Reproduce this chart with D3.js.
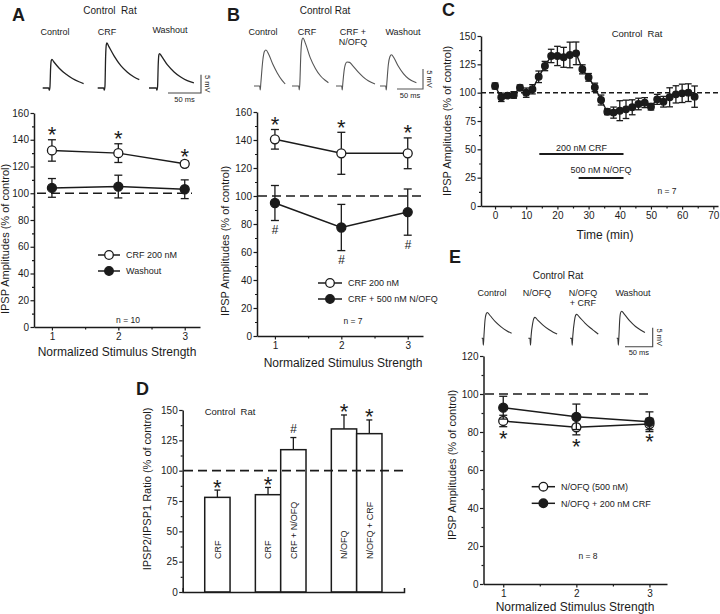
<!DOCTYPE html>
<html><head><meta charset="utf-8">
<script src="https://cdn.jsdelivr.net/npm/d3@7"></script>
<style>
body{margin:0;background:#fff;}
svg{display:block;font-family:"Liberation Sans",Arial,Helvetica,sans-serif;}
</style></head><body>
<svg id="fig" width="720" height="614"></svg>
<script>
// ================= DATA =================
const strengthLevels = [1, 2, 3];
const strengthTickLabels = ["1", "2", "3"];

// Panel A
const aCrfMean = [132, 130, 122];
const aCrfErr = [8, 7, 2];
const aWashMean = [104, 105, 103];
const aWashErr = [7, 8.5, 7];

// Panel B
const bCrfMean = [140.5, 130.5, 130.5];
const bCrfErr = [7, 15, 11];
const bComboMean = [95, 77.5, 88.5];
const bComboErr = [12.5, 16.5, 16.5];

// Panel E
const eNofqMean = [85.8, 82.5, 84.2];
const eNofqErr = [3, 4, 3];
const eComboMean = [92.8, 88, 85.4];
const eComboErr = [6, 6.7, 5.2];

// Panel C (time course)
const cTimes = [0,2,4,6,8,10,12,14,16,18,20,22,24,26,28,30,32,34,36,38,40,42,44,46,48,50,52,54,56,58,60,62,64];
const cMeans = [105.9,95.9,97.4,98,104.4,100,103,114,123.5,132.4,132.4,131.2,133.3,134.7,120.6,113.5,104.7,93.5,83.2,82.4,84.1,85.3,87.1,90,91.2,87.6,94.1,92,95.9,98.5,99.4,100,96.5];
const cErrs  = [2.6,3.7,1.8,2.9,2.4,4.1,4.1,5.1,4.1,5.9,8.5,8.8,11.3,10,4,3.4,3.7,4.4,2.6,4.9,8.8,8.1,6.6,5.1,4.4,2.9,4.4,4.7,8.4,7.6,8.1,7.8,9.4];
const cCrfPeriod = [14.2, 41.2];
const cNofqPeriod = [26.8, 41.2];
const cXTicks = [0,10,20,30,40,50,60,70];
const cYTicks = [0,25,50,75,100,125,150];

// Panel D (bars; empty slots are gaps between groups)
const dSlots = ["s1","g1","s2","s3","g2","s4","s5"];
const dLabels = ["CRF", "", "CRF", "CRF + N/OFQ", "", "N/OFQ", "N/OFQ + CRF"];
const dValues = [78, null, 80.2, 117.3, null, 134.4, 130.5];
const dErrs   = [6, null, 6, 10, null, 11.5, 11.3];
const dMarks  = ["*", "", "*", "#", "", "*", "*"];
const dYTicks = [0,25,50,75,100,125,150];

const abYTicks = [0,20,40,60,80,100,120,140,160];
const eYTicks = [0,20,40,60,80,100,120];

// Example traces [ms, mV]
const aTraces = [
  [[0,0],[9,0],[10,-0.6],[11,0.3],[12,5.5],[13,7.5],[14,7.8],[17,7.1],[25,5.4],[35,3.8],[45,2.6],[55,1.7],[62,1.2]],
  [[0,0],[9,0],[10,-0.6],[11,0.5],[12,8.5],[13,11.8],[14,12.3],[17,11.3],[25,8.7],[35,6.1],[45,4.3],[55,3.0],[63,2.3]],
  [[0,0],[11,0],[12,-0.6],[13,0.4],[14,6.5],[15,9.1],[16,9.4],[19,8.7],[28,6.3],[38,4.4],[48,3.0],[58,2.0],[68,1.4]]
];
const aTraceLabels = ["Control", "CRF", "Washout"];
const bTraces = [
  [[0,0],[11,0],[12,-1],[13,0.5],[17,6.5],[20,8.6],[23,9],[28,8],[36,5.5],[45,3.2],[54,1.4],[60,0.5]],
  [[0,0],[13,0],[14,-1],[15,0.5],[17,8],[19,11.4],[21,12],[26,10.6],[35,7.1],[45,4.4],[55,2.5],[65,1.3],[70,0.8]],
  [[0,0],[11,0],[12,-1],[13,0.5],[16,4.2],[18,5.4],[21,6],[26,5.9],[32,5.1],[42,3.6],[52,2.3],[62,1.3],[75,0.5]],
  [[0,0],[11,0],[12,-1],[13,0.5],[16,5.3],[19,7.3],[22,7.8],[27,7],[35,5],[45,3.1],[55,1.8],[70,0.8]]
];
const bTraceLabels = [["Control"], ["CRF"], ["CRF +", "N/OFQ"], ["Washout"]];
const eTraces = [
  [[0,0],[2,0],[3,-1.8],[4,0.5],[6,4.8],[8,6.4],[10,6.8],[15,6],[25,4.3],[35,3],[45,2],[54,1.3]],
  [[0,0],[3,0],[4,-1.8],[5,0.5],[8,4],[10,5.2],[12,5.5],[17,4.8],[27,3.4],[37,2.3],[45,1.6],[52,1.1]],
  [[0,0],[3,0],[4,-1.8],[5,0.5],[8,4.6],[10,6],[12,6.3],[17,5.6],[27,4],[37,2.7],[45,1.8],[51,1.1]],
  [[0,0],[2,0],[3,-1.8],[4,0.5],[5.5,5],[7,6.7],[9,7.1],[14,6.3],[24,4.5],[34,3.1],[44,2.1],[51,1.5]]
];
const eTraceLabels = [["Control"], ["N/OFQ"], ["N/OFQ", "+ CRF"], ["Washout"]];
const scaleBarMs = 50, scaleBarMv = 5;

// ================= DRAWING =================
const svg = d3.select("#fig");
const INK = "#1b1b1b";

function txt(x, y, s, size, o = {}) {
  const t = svg.append("text").attr("x", x).attr("y", y).text(s)
    .attr("font-size", size).attr("fill", o.fill || INK)
    .attr("text-anchor", o.anchor || "middle");
  if (o.weight) t.attr("font-weight", o.weight);
  if (o.italic) t.attr("font-style", "italic");
  if (o.rotate) t.attr("transform", `rotate(${o.rotate},${x},${y})`);
  return t;
}
function styleAxis(g, fs = 10) {
  g.attr("font-family", null).attr("font-size", fs);
  g.selectAll("path.domain").attr("stroke", INK).attr("stroke-width", 1.5);
  g.selectAll(".tick line").attr("stroke", INK).attr("stroke-width", 1.2);
  g.selectAll(".tick text").attr("fill", INK);
}
function yAxis(xPos, y, major, minor, fs = 10) {
  const g = svg.append("g").attr("transform", `translate(${xPos},0)`);
  g.call(d3.axisLeft(y).tickValues(major).tickSize(3.5).tickPadding(1.5).tickSizeOuter(0));
  styleAxis(g, fs);
  const m = svg.append("g").attr("transform", `translate(${xPos},0)`);
  m.call(d3.axisLeft(y).tickValues(minor).tickSize(2).tickFormat("").tickSizeOuter(0));
  m.select("path.domain").remove();
  styleAxis(m);
}
function xAxis(yPos, x, major, minor, fmt, fs = 10) {
  const g = svg.append("g").attr("transform", `translate(0,${yPos})`);
  const ax = d3.axisBottom(x).tickValues(major).tickSize(3.5).tickPadding(2.5).tickSizeOuter(0);
  if (fmt) ax.tickFormat(fmt);
  g.call(ax);
  styleAxis(g, fs);
  if (minor && minor.length) {
    const m = svg.append("g").attr("transform", `translate(0,${yPos})`);
    m.call(d3.axisBottom(x).tickValues(minor).tickSize(2.5).tickFormat("").tickSizeOuter(0));
    m.select("path.domain").remove();
    styleAxis(m);
  }
}
function dashed(x1, x2, yv, dash, w = 1.6) {
  svg.append("line").attr("x1", x1).attr("x2", x2).attr("y1", yv).attr("y2", yv)
    .attr("stroke", INK).attr("stroke-width", w).attr("stroke-dasharray", dash);
}
function errBar(cx, y1, y2, cap, yCapTop, yCapBot) {
  svg.append("line").attr("x1", cx).attr("x2", cx).attr("y1", y1).attr("y2", y2)
    .attr("stroke", INK).attr("stroke-width", 1.3);
  [yCapTop, yCapBot].forEach(cy => {
    if (cy == null) return;
    svg.append("line").attr("x1", cx - cap).attr("x2", cx + cap).attr("y1", cy).attr("y2", cy)
      .attr("stroke", INK).attr("stroke-width", 1.3);
  });
}
function marker(cx, cy, r, open) {
  svg.append("circle").attr("cx", cx).attr("cy", cy).attr("r", r)
    .attr("fill", open ? "#fff" : INK).attr("stroke", INK).attr("stroke-width", 1.3);
}
function star(cx, cy, sym = "*") {
  if (sym === "*") txt(cx, cy + 12.5, "*", 22);
  else if (sym === "#") txt(cx, cy + 4.3, "#", 12, { italic: true });
}
function drawSeries(x, y, mean, err, open, r = 4.5) {
  const pts = strengthLevels.map((lv, i) => ({ lv, m: mean[i], e: err[i] }));
  svg.append("path").datum(pts)
    .attr("d", d3.line().x(d => x(d.lv)).y(d => y(d.m)))
    .attr("fill", "none").attr("stroke", INK).attr("stroke-width", 1.5);
  pts.forEach(d => {
    const t = y(d.m + d.e), b = y(d.m - d.e);
    errBar(x(d.lv), t, b, 4, t, b);
  });
  pts.forEach(d => marker(x(d.lv), y(d.m), r, open));
}
function legendRow(x1, x2, yv, open, label) {
  svg.append("line").attr("x1", x1).attr("x2", x2).attr("y1", yv).attr("y2", yv)
    .attr("stroke", INK).attr("stroke-width", 1.5);
  marker((x1 + x2) / 2, yv, 4.3, open);
  txt(x2 + 6, yv + 3.2, label, 9, { anchor: "start" });
}
function drawTrace(pts, x0, base, pxMs, pxMv, color, w) {
  const tx = d3.scaleLinear().domain([0, 100]).range([x0, x0 + 100 * pxMs]);
  const ty = d3.scaleLinear().domain([0, 10]).range([base, base - 10 * pxMv]);
  svg.append("path").datum(pts)
    .attr("d", d3.line().x(d => tx(d[0])).y(d => ty(d[1])).curve(d3.curveMonotoneX))
    .attr("fill", "none").attr("stroke", color).attr("stroke-width", w);
}
function scaleBar(xr, yb, pxMs, pxMv, color, fs = 7.5) {
  const xl = xr - scaleBarMs * pxMs, yt = yb - scaleBarMv * pxMv;
  svg.append("path").attr("d", `M${xl},${yb}H${xr}V${yt}`)
    .attr("fill", "none").attr("stroke", color).attr("stroke-width", 1.1);
  txt(xr + 4, (yb + yt) / 2, scaleBarMv + " mV", fs, { rotate: 90 });
  txt((xl + xr) / 2, yb + 8.5, scaleBarMs + " ms", fs);
}
const minorStrength = [1.5, 2.5];
const range10 = (a, b, s) => d3.range(a, b + 1e-9, s);

// ---------------- Panel A ----------------
{
  txt(12, 21, "A", 18, { anchor: "start", weight: "bold" });
  txt(110, 14, "Control\u00A0 Rat", 10);
  const tx = [42.7, 97.7, 149];
  aTraceLabels.forEach((l, i) => txt([55, 107, 170][i], i === 2 ? 33 : 35, l, 9));
  aTraces.forEach((p, i) => drawTrace(p, tx[i], 88, 0.66, 3.66, "#222", 1.3));
  scaleBar(201, 93, 0.66, 3.66, "#444");

  const x = d3.scaleLinear().domain([0.73, 3.23]).range([34, 200]);
  const y = d3.scaleLinear().domain([0, 160]).range([327, 113]);
  dashed(37, 192, y(100), "9,5");
  yAxis(34, y, abYTicks, range10(10, 150, 20));
  xAxis(327, x, strengthLevels, minorStrength, (d, i) => strengthTickLabels[i], 10);
  drawSeries(x, y, aWashMean, aWashErr, false);
  drawSeries(x, y, aCrfMean, aCrfErr, true);
  strengthLevels.forEach((lv, i) => star(x(lv), y(aCrfMean[i] + aCrfErr[i]) - 10));
  legendRow(98, 120, 255, true, "CRF 200 nM");
  legendRow(98, 120, 271, false, "Washout");
  txt(128, 323, "n = 10", 8.5);
  txt(9, 239, "IPSP Amplitudes (% of control)", 11, { rotate: -90 });
  txt(117, 356, "Normalized Stimulus Strength", 12);
}

// ---------------- Panel B ----------------
{
  txt(227, 21, "B", 18, { anchor: "start", weight: "bold" });
  txt(325, 14, "Control Rat", 10);
  const tx = [254, 292, 336, 380];
  const lx = [263, 307, 353, 403];
  bTraceLabels.forEach((ls, i) => ls.forEach((l, j) => txt(lx[i], 35 + j * 10, l, 9)));
  bTraces.forEach((p, i) => drawTrace(p, tx[i], 86, 0.52, 4, "#555", 1.1));
  scaleBar(423, 89, 0.52, 4, "#555");

  const x = d3.scaleLinear().domain([0.73, 3.23]).range([257, 423]);
  const y = d3.scaleLinear().domain([0, 160]).range([336, 112]);
  dashed(258, 422, y(100), "9,5");
  yAxis(257, y, abYTicks, range10(10, 150, 20));
  xAxis(336, x, strengthLevels, minorStrength, (d, i) => strengthTickLabels[i], 10);
  drawSeries(x, y, bComboMean, bComboErr, false);
  drawSeries(x, y, bCrfMean, bCrfErr, true);
  strengthLevels.forEach((lv, i) => {
    star(x(lv), y(bCrfMean[i] + bCrfErr[i]) - 10);
    star(x(lv), y(bComboMean[i] - bComboErr[i]) + 9, "#");
  });
  legendRow(318, 342, 283, true, "CRF 200 nM");
  legendRow(318, 342, 299, false, "CRF + 500 nM N/OFQ");
  txt(353, 324, "n = 7", 8.5);
  txt(229, 241, "IPSP Amplitudes (% of control)", 11, { rotate: -90 });
  txt(343, 367, "Normalized Stimulus Strength", 12);
}

// ---------------- Panel C ----------------
{
  txt(442, 16, "C", 18, { anchor: "start", weight: "bold" });
  const x = d3.scaleLinear().domain([-4.5, 71.5]).range([481, 718]);
  const y = d3.scaleLinear().domain([0, 150]).range([206, 36]);
  yAxis(481, y, cYTicks, range10(12.5, 137.5, 25));
  xAxis(206, x, cXTicks, range10(5, 65, 10), null, 10);
  dashed(481, 718, y(100), "5,3", 1.5);
  const pts = cTimes.map((t, i) => ({ t, m: cMeans[i], e: cErrs[i] }));
  svg.append("path").datum(pts)
    .attr("d", d3.line().x(d => x(d.t)).y(d => y(d.m)))
    .attr("fill", "none").attr("stroke", INK).attr("stroke-width", 1.4);
  pts.forEach(d => {
    const t = y(d.m + d.e), b = y(d.m - d.e);
    errBar(x(d.t), t, b, 3.3, t, b);
  });
  pts.forEach(d => marker(x(d.t), y(d.m), 3.3, false));
  // drug application bars
  [[cCrfPeriod, 154, "200 nM CRF", 150.5], [cNofqPeriod, 178, "500 nM N/OFQ", 173]].forEach(([p, yy, lab, ty]) => {
    svg.append("line").attr("x1", x(p[0])).attr("x2", x(p[1])).attr("y1", yy).attr("y2", yy)
      .attr("stroke", INK).attr("stroke-width", 1.8);
    txt((x(p[0]) + x(p[1])) / 2, ty, lab, 9);
  });
  txt(637, 37, "Control\u00A0 Rat", 9.5);
  txt(667, 194, "n = 7", 8.5);
  txt(451, 121, "IPSP Amplitudes (% of control)", 11, { rotate: -90 });
  txt(605, 239, "Time (min)", 12);
}

// ---------------- Panel D ----------------
{
  txt(136, 395, "D", 18, { anchor: "start", weight: "bold" });
  const x = d3.scaleBand().domain(dSlots).range([182.7, 404]).paddingInner(0).paddingOuter(0.87);
  const y = d3.scaleLinear().domain([0, 150]).range([592, 410]);
  const bw = x.bandwidth();
  dSlots.forEach((s, i) => {
    if (dValues[i] == null) return;
    const cx = x(s) + bw / 2;
    const t = y(dValues[i] + dErrs[i]);
    errBar(cx, y(dValues[i]), t, 3, t, null);
    svg.append("rect").attr("x", x(s)).attr("y", y(dValues[i]))
      .attr("width", bw).attr("height", y(0) - y(dValues[i]))
      .attr("fill", "#fff").attr("stroke", INK).attr("stroke-width", 1.5);
    txt(cx + 3.2, 559, dLabels[i], 9, { anchor: "start", rotate: -90 });
    star(cx, t - (dMarks[i] === "#" ? 9 : 8), dMarks[i]);
  });
  dashed(184, 404, y(100), "9,5");
  yAxis(182.7, y, dYTicks, range10(12.5, 137.5, 25));
  const g = svg.append("g").attr("transform", "translate(0,592)");
  g.call(d3.axisBottom(d3.scaleLinear().range([182.7, 404])).tickValues([]).tickSizeOuter(-4));
  styleAxis(g);
  txt(230, 415, "Control\u00A0 Rat", 9.5);
  txt(151, 489, "IPSP2/IPSP1 Ratio (% of control)", 11, { rotate: -90 });
}

// ---------------- Panel E ----------------
{
  txt(449, 263, "E", 18, { anchor: "start", weight: "bold" });
  txt(558, 279, "Control Rat", 10);
  const tx = [481.7, 528.3, 570, 616.7];
  const lx = [492, 537, 583, 633];
  eTraceLabels.forEach((ls, i) => ls.forEach((l, j) => txt(lx[i], 296 + j * 9.5, l, 9)));
  eTraces.forEach((p, i) => drawTrace(p, tx[i], 338.3, 0.554, 3.8, "#333", 1.1));
  scaleBar(652.7, 346.7, 0.554, 3.8, "#444");

  const x = d3.scaleLinear().domain([0.73, 3.24]).range([483.5, 667]);
  const y = d3.scaleLinear().domain([0, 120]).range([584, 356]);
  dashed(485, 653, y(100), "9,5");
  yAxis(483.5, y, eYTicks, range10(10, 110, 20));
  xAxis(584, x, strengthLevels, minorStrength, (d, i) => strengthTickLabels[i], 10);
  drawSeries(x, y, eNofqMean, eNofqErr, true);
  drawSeries(x, y, eComboMean, eComboErr, false);
  strengthLevels.forEach((lv, i) => star(x(lv), y(eNofqMean[i] - eNofqErr[i]) + 7));
  legendRow(531.7, 555, 486.7, true, "N/OFQ (500 nM)");
  legendRow(531.7, 555, 503.3, false, "N/OFQ +  200 nM CRF");
  txt(588, 559, "n = 8", 8.5);
  txt(456, 465, "IPSP Amplitudes (% of control)", 11, { rotate: -90 });
  txt(575, 611, "Normalized Stimulus Strength", 12);
}
</script>
</body></html>
